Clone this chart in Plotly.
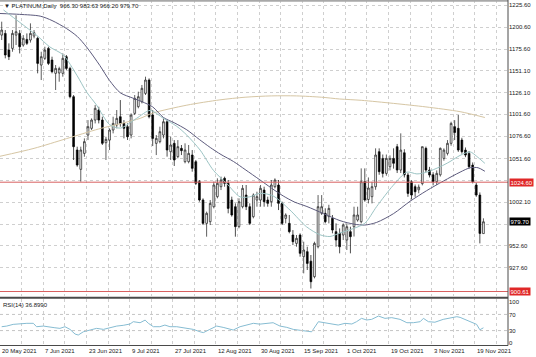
import plotly.graph_objects as go

# ---------------- data ----------------
date_labels = ["20 May 2021", "7 Jun 2021", "23 Jun 2021", "9 Jul 2021", "27 Jul 2021",
               "12 Aug 2021", "30 Aug 2021", "15 Sep 2021", "1 Oct 2021", "19 Oct 2021",
               "3 Nov 2021", "19 Nov 2021"]
date_label_bars = [0, 12, 24, 36, 48, 60, 72, 84, 96, 108, 120, 132]

opens = [1191.5, 1193.4, 1174.5, 1176.4, 1191.5, 1193.4, 1180.2, 1186.6, 1185.9, 1190.4,
         1187.8, 1157.5, 1165.1, 1176.4, 1163.2, 1148.1, 1148.5, 1148.1, 1167.0, 1153.7,
         1121.6, 1061.1, 1039.2, 1057.3, 1078.1, 1085.7, 1095.1, 1106.5, 1095.1, 1069.4,
         1072.4, 1083.8, 1089.5, 1098.9, 1091.3, 1087.6, 1078.1, 1102.7, 1110.3, 1115.9,
         1125.4, 1140.5, 1100.8, 1068.7, 1070.6, 1078.1, 1093.2, 1059.2, 1068.7, 1053.6,
         1063.0, 1047.9, 1047.9, 1055.4, 1047.9, 1025.2, 1004.4, 977.9, 979.8, 996.8,
         1008.2, 1019.5, 1029.0, 1023.3, 1004.4, 996.8, 974.2, 996.8, 1010.0, 996.8,
         985.5, 1004.4, 1004.4, 1015.7, 1004.4, 1002.5, 1019.5, 1021.4, 1000.6, 983.6,
         977.9, 964.7, 955.2, 964.7, 940.1, 945.8, 935.0, 917.4, 951.4, 989.3,
         989.3, 985.5, 983.6, 968.5, 966.6, 964.7, 959.0, 968.5, 974.1, 981.7,
         979.8, 1025.2, 1005.0, 1008.2, 1019.5, 1059.2, 1051.6, 1034.6, 1042.2, 1051.6,
         1064.9, 1038.4, 1058.0, 1032.7, 1025.0, 1019.5, 1016.0, 1023.0, 1063.0, 1038.4,
         1033.0, 1025.2, 1033.0, 1051.6, 1057.3, 1068.7, 1087.6, 1085.7, 1072.4, 1061.0,
         1057.3, 1044.0, 1021.4, 1010.0, 966.30]

highs = [1206.7, 1197.2, 1182.1, 1197.2, 1214.0, 1197.2, 1191.5, 1193.4, 1204.8, 1197.2,
         1189.7, 1172.6, 1178.3, 1178.3, 1167.0, 1157.5, 1155.6, 1170.7, 1168.9, 1155.6,
         1123.5, 1064.9, 1064.9, 1074.3, 1095.1, 1097.0, 1112.1, 1110.2, 1098.9, 1076.2,
         1085.7, 1098.9, 1106.5, 1117.8, 1095.1, 1091.3, 1102.7, 1123.5, 1127.3, 1134.9,
         1144.3, 1142.4, 1106.5, 1078.1, 1087.6, 1097.0, 1095.1, 1076.2, 1072.4, 1072.4,
         1066.8, 1068.7, 1066.8, 1061.1, 1049.8, 1027.1, 1006.3, 991.2, 1004.4, 1025.2,
         1029.0, 1030.9, 1030.9, 1027.1, 1008.2, 1000.6, 1006.3, 1021.4, 1021.4, 1000.6,
         1011.9, 1013.8, 1021.4, 1019.5, 1008.2, 1027.1, 1029.0, 1027.1, 1002.5, 989.3,
         987.4, 970.3, 964.7, 966.6, 957.1, 951.4, 942.0, 957.1, 1010.0, 1010.0,
         995.0, 999.0, 987.4, 977.9, 972.2, 977.9, 977.9, 974.1, 996.8, 996.8,
         1040.3, 1040.3, 1030.0, 1025.0, 1063.0, 1063.0, 1056.0, 1056.0, 1055.0, 1063.0,
         1068.0, 1080.0, 1062.0, 1035.0, 1027.0, 1022.0, 1022.0, 1065.0, 1065.0, 1042.0,
         1036.0, 1038.0, 1064.0, 1063.0, 1072.4, 1093.2, 1095.0, 1100.8, 1075.0, 1064.0,
         1060.0, 1047.0, 1024.0, 1013.0, 983.63]

lows = [1185.9, 1165.1, 1163.2, 1172.6, 1180.2, 1170.7, 1178.3, 1180.2, 1183.0, 1187.8,
        1148.1, 1140.5, 1163.2, 1157.5, 1148.1, 1129.2, 1138.6, 1144.3, 1151.8, 1119.7,
        1049.8, 1042.2, 1025.2, 1053.5, 1072.4, 1083.8, 1091.3, 1091.3, 1066.8, 1049.8,
        1061.1, 1080.0, 1085.7, 1087.6, 1074.3, 1072.5, 1074.3, 1100.8, 1108.4, 1114.0,
        1123.5, 1097.0, 1065.6, 1055.4, 1068.7, 1074.3, 1053.6, 1049.8, 1043.0, 1051.7,
        1055.4, 1046.0, 1046.0, 1036.5, 1021.4, 1002.5, 976.0, 962.8, 976.0, 994.9,
        1006.3, 1015.7, 1019.5, 989.3, 985.5, 962.8, 972.3, 994.9, 993.0, 976.0,
        983.6, 996.8, 996.8, 996.8, 996.8, 996.8, 1017.6, 993.0, 976.0, 977.9,
        966.6, 953.3, 951.4, 940.1, 921.2, 925.0, 904.0, 915.5, 949.5, 987.4,
        977.9, 977.9, 966.6, 951.4, 943.9, 959.0, 947.7, 943.9, 963.0, 979.8,
        977.9, 1002.5, 1000.6, 1000.6, 1016.0, 1033.0, 1030.0, 1032.0, 1038.0, 1040.0,
        1035.0, 1035.0, 1030.0, 1008.0, 1005.0, 1008.0, 1012.0, 1021.0, 1036.0, 1030.0,
        1021.0, 1021.4, 1031.0, 1049.0, 1055.0, 1066.0, 1072.4, 1059.0, 1057.0, 1053.0,
        1040.0, 1023.3, 1008.0, 955.2, 966.20]

closes = [1197.2, 1168.9, 1167.0, 1193.4, 1195.3, 1178.3, 1187.8, 1182.1, 1193.4, 1194.2,
          1159.4, 1167.0, 1174.5, 1159.4, 1150.0, 1153.7, 1153.5, 1165.1, 1153.7, 1121.6,
          1064.9, 1044.1, 1061.1, 1070.6, 1087.6, 1095.1, 1108.4, 1095.1, 1068.7, 1073.2,
          1083.8, 1091.3, 1097.0, 1091.3, 1085.7, 1076.2, 1100.8, 1119.7, 1121.6, 1131.1,
          1140.5, 1098.9, 1074.3, 1074.3, 1081.9, 1093.2, 1061.1, 1066.8, 1049.8, 1064.9,
          1060.4, 1061.1, 1057.3, 1040.3, 1023.3, 1004.4, 977.9, 989.3, 1000.6, 1021.4,
          1023.3, 1027.1, 1023.3, 994.9, 987.4, 974.2, 1002.5, 1017.6, 996.8, 977.9,
          1010.0, 1008.2, 1017.6, 1002.5, 1000.6, 1021.4, 1027.1, 1000.6, 977.9, 987.4,
          968.5, 957.1, 960.9, 943.9, 947.7, 932.5, 911.7, 955.2, 996.8, 996.8,
          979.8, 994.9, 970.3, 959.0, 951.4, 976.0, 974.1, 962.8, 987.4, 987.4,
          1025.2, 1004.4, 1018.0, 1019.5, 1055.4, 1036.5, 1034.6, 1051.6, 1051.6, 1046.0,
          1038.4, 1061.0, 1033.0, 1011.9, 1010.0, 1013.8, 1019.0, 1064.9, 1038.4, 1032.7,
          1025.2, 1034.6, 1063.0, 1061.0, 1068.7, 1091.3, 1081.0, 1061.1, 1059.2, 1055.4,
          1042.2, 1025.2, 1010.0, 966.5, 979.70]

# moving averages, read at sample bars
ma_fast_bars = [0.5, 5, 9.8, 13.4, 17.1, 20.9, 23.6, 26.4, 30, 33, 37.5, 41.3, 45, 48.7,
                51.5, 55.2, 58.9, 62.6, 66.3, 69, 71.9, 75.5, 80.2, 84.8, 88.5, 91.3, 94.1,
                97.8, 101, 104.3, 108.9, 112.7, 115.5, 118.2, 121.9, 124.7, 127.5, 130.3,
                132.1, 134.4]
ma_fast_vals = [1220, 1206, 1191, 1178, 1169, 1146, 1127, 1112, 1090, 1086, 1097, 1106, 1097,
                1088, 1078, 1061, 1038, 1023, 1008, 1008, 1012, 1009, 993, 974, 965, 963, 967,
                972, 978, 997, 1021, 1036, 1034, 1036, 1042, 1048, 1055, 1059, 1054, 1046]

ma_slow_bars = [-0.5, 5, 10.7, 14, 18, 21, 23.6, 27.3, 30, 33, 36.5, 39, 42, 45, 48, 51.5, 55,
                58, 61, 64.5, 67.7, 71.9, 75, 78.3, 81.5, 84.9, 89.5, 94.1, 98, 101, 104.3,
                109, 113.6, 118.2, 122.9, 127.5, 130.3, 132.5, 134.4]
ma_slow_vals = [1216, 1215, 1213, 1208, 1199, 1190, 1178, 1157, 1140, 1126, 1120, 1116, 1110,
                1098, 1092, 1084, 1073, 1064, 1056, 1048, 1039, 1027, 1018, 1009, 1002, 997,
                989, 981, 977, 976, 979, 989, 1003, 1015, 1026, 1036, 1041, 1041, 1037]

ma_long_bars = [-0.5, 9, 18, 27, 34, 38.5, 42, 51.5, 60.7, 67.7, 75, 82, 89, 94, 100, 109,
                118, 127.5, 134.4]
ma_long_vals = [1054, 1063, 1074, 1085, 1092, 1097, 1103, 1112, 1118, 1121, 1122.5, 1122.5,
                1121, 1119, 1117.5, 1114, 1110, 1104.6, 1098]

rsi_bars = [0, 1.4, 3.2, 5.1, 7, 8.8, 9.7, 11.6, 13.4, 14.8, 16.2, 17.6, 19, 20.4, 21.3, 22.7,
            24.6, 26.4, 28.3, 30.1, 32, 33.8, 35.7, 36.6, 38.5, 39.9, 40.8, 42.2, 44, 45.4,
            46.8, 48.7, 51.5, 53.3, 55.2, 56.1, 57.9, 59.8, 61.6, 63.5, 64.4, 66.3, 68.1, 70,
            71.8, 73.7, 75.5, 77.4, 79.3, 81.1, 83, 84.8, 86.2, 88.1, 89.9, 91.8, 93.6, 95.5,
            97.4, 98.7, 100.1, 101.5, 102.9, 104.8, 106.6, 108.5, 110.8, 112.7, 114.5, 116.4,
            117.3, 118.7, 120.5, 122.8, 125.2, 126.6, 127.5, 128.9, 130.7, 132.1, 133, 134]
rsi_vals = [39.6, 41.2, 45.4, 47, 48, 48, 39.6, 41.2, 38, 37, 35.5, 39.6, 33, 21.5, 19, 27,
            31.4, 35.5, 33, 37, 41.2, 43, 46.3, 52, 49.5, 56, 48, 39.6, 39.6, 43.7,
            39.6, 39.6, 35.5, 33, 27, 25, 33, 41.2, 38, 33, 31.4, 39.6, 43.7, 48,
            46, 48, 49.5, 41.2, 38, 33, 31.4, 29.7, 27, 52, 49.5, 46.3, 43.7, 48,
            46.3, 52, 60.3, 56.2, 57.8, 66, 60.3, 62, 57.8, 49.5, 49.5, 52,
            60.3, 52, 50.7, 57.8, 62.7, 64.4, 62.7, 57.8, 52, 45.4, 32, 36.899]

price_ticks = [1225.60, 1200.60, 1175.60, 1151.10, 1126.10, 1101.60, 1076.60, 1051.60,
               1026.60, 1002.10, 977.10, 952.60, 927.60]
hidden_ticks = [1026.60, 977.10]   # covered by the price boxes in the reference
rsi_ticks = [0, 30, 70, 100]
level_lines = [1024.60, 900.61]
last_price = 979.70
header = "PLATINUM,Daily  966.30 983.63 966.20 979.70"
rsi_title = "RSI(14) 36.8990"

# ---------------- figure ----------------
W, H = 536, 357
FONT = "Liberation Sans, Arial, sans-serif"
def py(px):
    return 1 - px / H

bars = list(range(len(closes)))

fig = go.Figure()
fig.add_trace(go.Candlestick(
    x=bars, open=opens, high=highs, low=lows, close=closes,
    increasing=dict(line=dict(color="#1a1a1a", width=0.7), fillcolor="#ffffff"),
    decreasing=dict(line=dict(color="#000000", width=0.7), fillcolor="#000000"),
    whiskerwidth=0, showlegend=False, hoverinfo="skip", xaxis="x", yaxis="y"))

fig.add_trace(go.Scatter(x=ma_long_bars, y=ma_long_vals, mode="lines",
                         line=dict(color="#d6c6a4", width=1, shape="spline", smoothing=0.8),
                         showlegend=False, hoverinfo="skip", yaxis="y"))
fig.add_trace(go.Scatter(x=ma_slow_bars, y=ma_slow_vals, mode="lines",
                         line=dict(color="#5d5b7d", width=1, shape="spline", smoothing=0.8),
                         showlegend=False, hoverinfo="skip", yaxis="y"))
fig.add_trace(go.Scatter(x=ma_fast_bars, y=ma_fast_vals, mode="lines",
                         line=dict(color="#9cc4c4", width=1, shape="spline", smoothing=0.8),
                         showlegend=False, hoverinfo="skip", yaxis="y"))
fig.add_trace(go.Scatter(x=rsi_bars, y=rsi_vals, mode="lines",
                         line=dict(color="#86bcd2", width=1),
                         showlegend=False, hoverinfo="skip", yaxis="y2"))

grid = dict(showgrid=True, gridcolor="#cfcfcf", griddash="dot", gridwidth=1)
tickfont = dict(family=FONT, size=6, color="#202020")

fig.update_layout(
    width=W, height=H,
    margin=dict(l=0, r=28, t=0, b=0),
    paper_bgcolor="#ffffff", plot_bgcolor="#ffffff",
    font=dict(family=FONT, size=6, color="#202020"),
    hovermode=False,
    xaxis=dict(domain=[0, 1], range=[-0.47, 140.83], anchor="y2",
               showticklabels=False, ticks="", tick0=-0.4, dtick=6,
               zeroline=False, rangeslider=dict(visible=False), **grid),
    yaxis=dict(domain=[py(296), 1], range=[895.5, 1231.3], side="right", anchor="x",
               tickmode="array", tickvals=price_ticks,
               ticktext=["" if v in hidden_ticks else f"{v:.2f}" for v in price_ticks],
               ticks="", ticklabelstandoff=0, tickfont=tickfont, zeroline=False, **grid),
    yaxis2=dict(domain=[py(345.5), py(299)], range=[-6.9, 108.2], side="right", anchor="x",
                tickmode="array", tickvals=rsi_ticks, ticktext=[str(v) for v in rsi_ticks],
                ticks="", ticklabelstandoff=0, tickfont=tickfont, showgrid=False,
                zeroline=False),
)

shapes = []
for lv in [30, 70]:
    shapes.append(dict(type="line", xref="paper", yref="y2", x0=0, x1=1, y0=lv, y1=lv,
                       line=dict(color="#c4c4c4", width=1, dash="dot")))
for lv in level_lines:
    shapes.append(dict(type="line", xref="paper", yref="y", x0=0, x1=1, y0=lv, y1=lv,
                       line=dict(color="#d86060", width=1)))
# frame lines
shapes.append(dict(type="line", xref="paper", yref="paper", x0=0, x1=1, y0=py(0.8), y1=py(0.8),
                   line=dict(color="#a8a8a8", width=2)))
shapes.append(dict(type="line", xref="paper", yref="paper", x0=0, x1=1, y0=py(297.8), y1=py(297.8),
                   line=dict(color="#4a4a4a", width=2)))
shapes.append(dict(type="line", xref="paper", yref="paper", x0=0, x1=1, y0=py(345.5), y1=py(345.5),
                   line=dict(color="#4a4a4a", width=1)))
shapes.append(dict(type="line", xref="paper", yref="paper", x0=1, x1=1, y0=py(345.5), y1=1,
                   line=dict(color="#4a4a4a", width=1)))
fig.update_layout(shapes=shapes)

ann = []
ann.append(dict(text="\u25bc " + header, x=0.004, y=py(1.5), xref="paper", yref="paper",
                xanchor="left", yanchor="top", showarrow=False,
                font=dict(family=FONT, size=6, color="#202020")))
ann.append(dict(text=rsi_title, x=0.002, y=py(300), xref="paper", yref="paper",
                xanchor="left", yanchor="top", showarrow=False,
                font=dict(family=FONT, size=6, color="#202020")))
for lv in level_lines:
    ann.append(dict(text=f"{lv:.2f}", x=1, y=lv, xref="paper", yref="y", xanchor="left",
                    yanchor="middle", xshift=1, showarrow=False, bgcolor="#e02828",
                    borderpad=0.5, font=dict(family=FONT, size=6, color="#ffffff")))
ann.append(dict(text=f"{last_price:.2f}", x=1, y=last_price, xref="paper", yref="y",
                xanchor="left", yanchor="middle", xshift=1, showarrow=False, bgcolor="#000000",
                borderpad=0.5, font=dict(family=FONT, size=6, color="#ffffff")))
for b, lab in zip(date_label_bars, date_labels):
    ann.append(dict(text=lab, x=b - 0.4, y=py(351), xref="x", yref="paper", xanchor="left",
                    yanchor="middle", showarrow=False,
                    font=dict(family=FONT, size=6, color="#202020")))
fig.update_layout(annotations=ann)

fig.write_html("out.html", config={"displayModeBar": False, "staticPlot": True})

# remove the default page margin so the 536x357 figure fills the window exactly
with open("out.html", "r", encoding="utf-8") as f:
    page = f.read()
page = page.replace("<head>", "<head><style>html,body{margin:0;padding:0;overflow:hidden;}</style>", 1)
with open("out.html", "w", encoding="utf-8") as f:
    f.write(page)
